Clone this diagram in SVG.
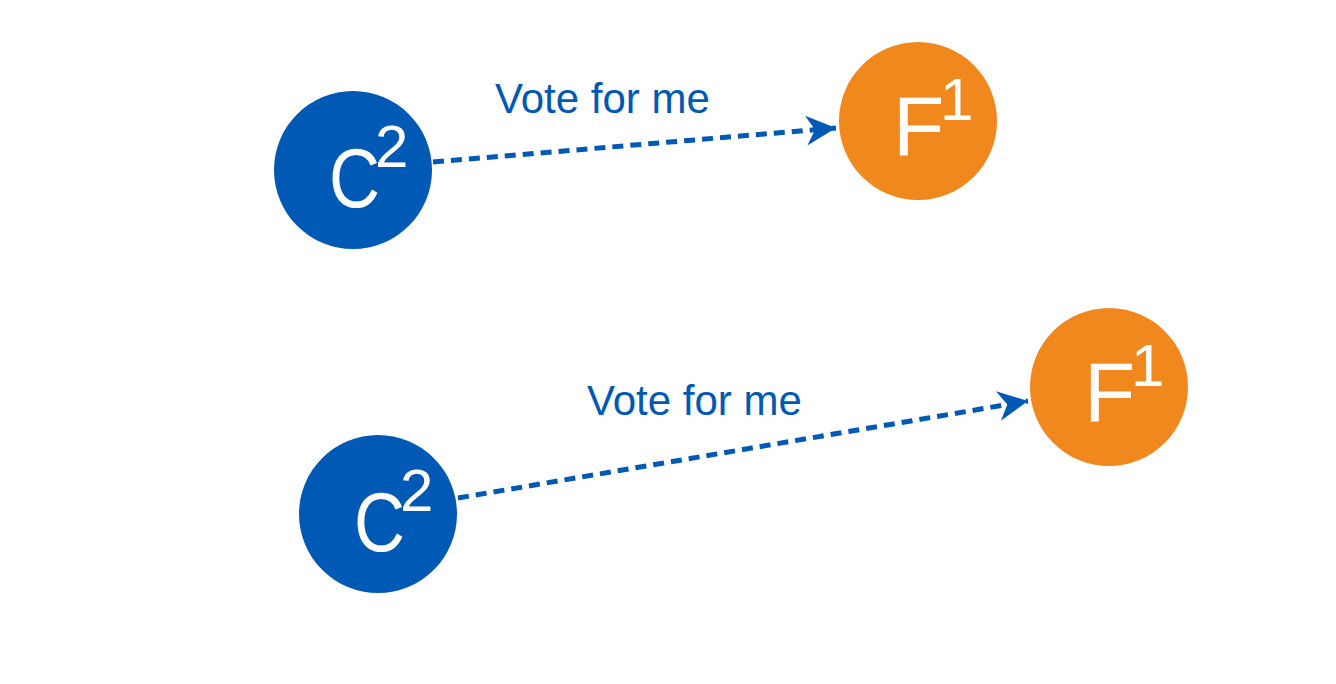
<svg xmlns="http://www.w3.org/2000/svg" width="1336" height="684" viewBox="0 0 1336 684">
<style>
.c{fill:#0059B5}
.f{fill:#F0881E}
.big{font-family:"Liberation Sans",Arial,sans-serif;fill:#fff;font-size:84px}
.sup{font-size:60px}
.lbl{font-family:"Liberation Sans",Arial,sans-serif;fill:#0059B5;font-size:42px}
.edge{stroke:#0059B5;stroke-width:5;stroke-dasharray:11 7;fill:none}
</style>
<defs>
<marker id="ah" viewBox="0 0 10 10" refX="10" refY="5" markerWidth="6" markerHeight="6" markerUnits="strokeWidth" orient="auto">
<path d="M0,0 L10,5 L0,10 L3,5 Z" fill="#0059B5"/>
</marker>
</defs>
<rect width="1336" height="684" fill="#fff"/>
<g id="connectors">
<line class="edge" x1="433" y1="162" x2="836" y2="128" marker-end="url(#ah)"/>
<line class="edge" x1="458" y1="498" x2="1028" y2="401" marker-end="url(#ah)"/>
<text class="lbl" x="495" y="113">Vote for me</text>
<text class="lbl" x="587" y="415">Vote for me</text>
</g>
<g id="c1">
<circle class="c" cx="353" cy="170" r="79"/>
<text class="big" x="329" y="207"><tspan textLength="51" lengthAdjust="spacingAndGlyphs">C</tspan><tspan class="sup" x="375" y="167">2</tspan></text>
</g>
<g id="f1">
<circle class="f" cx="918" cy="121" r="79"/>
<text class="big" x="893" y="155">F<tspan class="sup" x="940" y="120">1</tspan></text>
</g>
<g id="c2">
<circle class="c" cx="378" cy="514" r="79"/>
<text class="big" x="354" y="551"><tspan textLength="51" lengthAdjust="spacingAndGlyphs">C</tspan><tspan class="sup" x="400" y="511">2</tspan></text>
</g>
<g id="f2">
<circle class="f" cx="1109" cy="387" r="79"/>
<text class="big" x="1084" y="421">F<tspan class="sup" x="1131" y="386">1</tspan></text>
</g>
</svg>
